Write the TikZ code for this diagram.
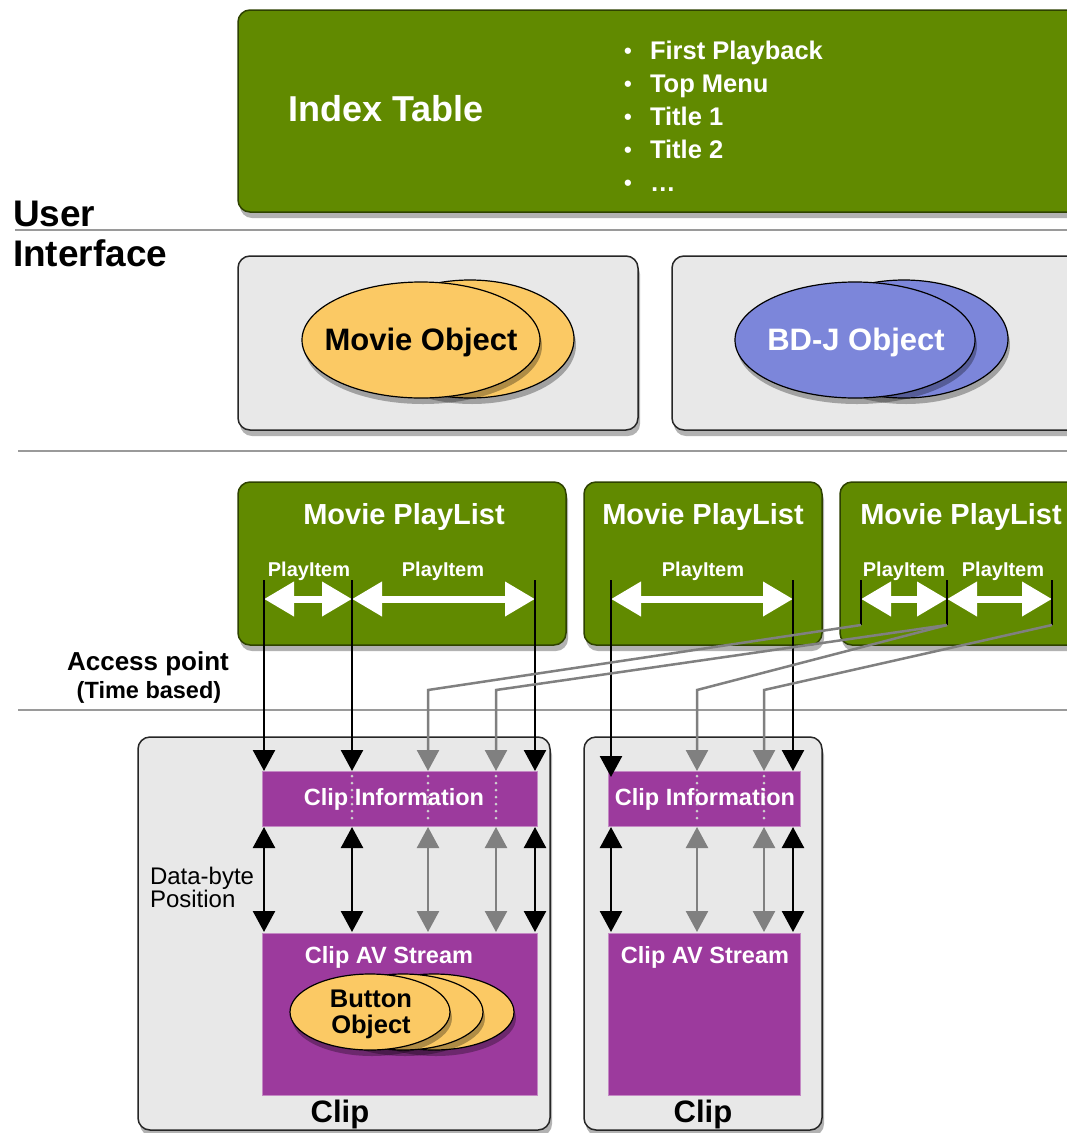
\documentclass[tikz,border=0pt]{standalone}
\usepackage{fontspec}
\setmainfont{Liberation Sans}
\usetikzlibrary{shapes.geometric,arrows.meta,shadows}
\definecolor{grn}{HTML}{618A00}
\definecolor{grnedge}{HTML}{2E4200}
\definecolor{panel}{HTML}{E8E8E8}
\definecolor{purp}{HTML}{9C3A9D}
\definecolor{yel}{HTML}{FBC964}
\definecolor{blu}{HTML}{7C86DA}
\definecolor{sepc}{HTML}{9A9A9A}
\definecolor{conn}{HTML}{808080}
\definecolor{dotc}{HTML}{CFCFCF}
\newcommand{\fsz}[2]{\fontsize{#1pt}{#2pt}\selectfont}
\begin{document}
\begin{tikzpicture}[x=1pt,y=-1pt,
  every node/.style={inner sep=0pt,outer sep=0pt},
  shad/.style={drop shadow={shadow xshift=2pt,shadow yshift=-6pt,opacity=0.3,fill=black}},
  greenbox/.style={draw=grnedge,line width=1.5pt,fill=grn,rounded corners=12pt,shad},
  panelbox/.style={draw=black!85,line width=1.5pt,fill=panel,rounded corners=12pt,shad},
  purpbox/.style={draw=purp!60!white,line width=0.8pt,fill=purp},
  sepline/.style={draw=sepc,line width=2.5pt},
  wtxt/.style={text=white,font=\bfseries},
  btxt/.style={text=black,font=\bfseries},
  yellip/.style={ellipse,draw=black,line width=1.2pt,fill=yel,shad},
  bellip/.style={ellipse,draw=black,line width=1.2pt,fill=blu,shad},
  blk/.style={draw=black,line width=2.5pt},
  gry/.style={draw=conn,line width=2.5pt},
  tip/.style={-{Triangle[width=22pt,length=21pt]}},
  dtip/.style={{Triangle[width=22pt,length=21pt]}-{Triangle[width=22pt,length=21pt]}},
  playarr/.style={draw=white,line width=7pt,{Triangle[width=33pt,length=30pt]}-{Triangle[width=33pt,length=30pt]}},
  dots/.style={draw=dotc,line width=3pt,line cap=round,dash pattern=on 0pt off 7pt}
]
\useasboundingbox (0,0) rectangle (1067,1133);
\clip (0,0) rectangle (1067,1133);
\fill[white] (0,0) rectangle (1067,1133);

% separators
\coordinate (s1a) at (15,230);  \coordinate (s1b) at (1067,230);
\coordinate (s2a) at (18,451);  \coordinate (s2b) at (1067,451);
\coordinate (s3a) at (18,710);  \coordinate (s3b) at (1067,710);
\draw[sepline] (s1a) -- (s1b);
\draw[sepline] (s2a) -- (s2b);
\draw[sepline] (s3a) -- (s3b);

% Index table
\node[greenbox,minimum width=862pt,minimum height=202pt] (idx) at (669,111) {};
\node[wtxt,font=\bfseries\fsz{36}{40}] (idxt) at (386,109) {Index Table};
\foreach \yy/\tt [count=\i] in {59/First Playback,92/Top Menu,125/Title 1,158/Title 2,191/…}{
  \node[wtxt,font=\bfseries\fsz{22}{24},anchor=base west] (bul\i) at (624,\yy-1) {•};
  \node[wtxt,font=\bfseries\fsz{25.5}{28},anchor=base west] (itm\i) at (650,\yy) {\tt};
}

% user interface label
\node[btxt,font=\bfseries\fsz{37}{40},anchor=west] (user) at (13,214) {User};
\node[btxt,font=\bfseries\fsz{37}{40},anchor=west] (iface) at (13,253) {Interface};

% object panels
\node[panelbox,minimum width=400pt,minimum height=174pt] (mop) at (438,343) {};
\node[panelbox,minimum width=428pt,minimum height=174pt] (bdp) at (886,343) {};
\node[yellip,minimum width=208pt,minimum height=118pt] (mob) at (470,339) {};
\node[yellip,minimum width=238pt,minimum height=116pt] (mof) at (421,340) {};
\node[btxt,font=\bfseries\fsz{31}{34}] (mot) at (421,342) {Movie Object};
\node[bellip,minimum width=208pt,minimum height=118pt] (bdb) at (904,339) {};
\node[bellip,minimum width=240pt,minimum height=116pt] (bdf) at (855,340) {};
\node[wtxt,font=\bfseries\fsz{31}{34}] (bdt) at (856,342) {BD-J Object};

% playlists
\node[greenbox,minimum width=328pt,minimum height=163pt] (pl1) at (402,563.5) {};
\node[greenbox,minimum width=238pt,minimum height=163pt] (pl2) at (703,563.5) {};
\node[greenbox,minimum width=260pt,minimum height=163pt] (pl3) at (970,563.5) {};
\node[wtxt,font=\bfseries\fsz{29}{32}] (pl1t) at (404,517) {Movie PlayList};
\node[wtxt,font=\bfseries\fsz{29}{32}] (pl2t) at (703,517) {Movie PlayList};
\node[wtxt,font=\bfseries\fsz{29}{32}] (pl3t) at (961,517) {Movie PlayList};
\foreach \xx [count=\i] in {309,443,703,904,1003}{
  \node[wtxt,font=\bfseries\fsz{20}{22}] (pi\i) at (\xx,571) {PlayItem};
}

% clip panels
\node[panelbox,minimum width=412pt,minimum height=393pt] (clip1) at (344,933.5) {};
\node[panelbox,minimum width=238pt,minimum height=393pt] (clip2) at (703,933.5) {};
\node[purpbox,minimum width=275pt,minimum height=55pt] (ci1) at (399.5,798.5) {};
\node[purpbox,minimum width=192pt,minimum height=55pt] (ci2) at (704,798.5) {};
\node[purpbox,minimum width=275pt,minimum height=162pt] (av1) at (399.5,1014) {};
\node[purpbox,minimum width=192pt,minimum height=162pt] (av2) at (704,1014) {};

% dotted lines in clip information
\foreach \xx in {352,428,496}{\draw[dots] (\xx,776) -- (\xx,824);}
\foreach \xx in {697,764}{\draw[dots] (\xx,776) -- (\xx,824);}
\node[wtxt,font=\bfseries\fsz{23.5}{26}] (ci1t) at (394,799) {Clip Information};
\node[wtxt,font=\bfseries\fsz{23.5}{26}] (ci2t) at (705,799) {Clip Information};
\node[wtxt,font=\bfseries\fsz{23.5}{26}] (av1t) at (389,957) {Clip AV Stream};
\node[wtxt,font=\bfseries\fsz{23.5}{26}] (av2t) at (705,957) {Clip AV Stream};

% button objects
\node[yellip,minimum width=160pt,minimum height=76pt] (bo3) at (434,1012) {};
\node[yellip,minimum width=160pt,minimum height=76pt] (bo2) at (403,1012) {};
\node[yellip,minimum width=160pt,minimum height=76pt] (bo1) at (370,1012) {};
\node[btxt,font=\bfseries\fsz{25.5}{26},align=center] (bot) at (371,1014) {Button\\Object};

\node[btxt,font=\bfseries\fsz{31}{34}] (cl1t) at (340,1114) {Clip};
\node[btxt,font=\bfseries\fsz{31}{34}] (cl2t) at (703,1114) {Clip};

% left labels
\node[btxt,font=\bfseries\fsz{26}{28}] (acc) at (148,664) {Access point};
\node[btxt,font=\bfseries\fsz{23.5}{26}] (tb) at (149,692) {(Time based)};
\node[font=\fsz{24}{23},align=left,anchor=west] (dbp) at (150,887) {Data-byte\\Position};

% playitem boundaries
\coordinate (a1) at (264,580); \coordinate (a2) at (352,580); \coordinate (a3) at (535,580);
\coordinate (b1) at (611,580); \coordinate (b2) at (793,580);
\coordinate (c1) at (861,580); \coordinate (c2) at (947,580); \coordinate (c3) at (1052,580);
\coordinate (c1e) at (861,625); \coordinate (c2e) at (947,625); \coordinate (c3e) at (1052,625);

% white playitem arrows
\draw[playarr] ([yshift=-19pt]a1) -- ([yshift=-19pt]a2);
\draw[playarr] ([yshift=-19pt]a2) -- ([yshift=-19pt]a3);
\draw[playarr] ([yshift=-19pt]b1) -- ([yshift=-19pt]b2);
\draw[playarr] ([yshift=-19pt]c1) -- ([yshift=-19pt]c2);
\draw[playarr] ([yshift=-19pt]c2) -- ([yshift=-19pt]c3);

% black access lines
\draw[blk,tip] (a1) -- (a1 |- ci1.north);
\draw[blk,tip] (a2) -- (a2 |- ci1.north);
\draw[blk,tip] (a3) -- (a3 |- ci1.north);
\draw[blk,tip] (b1) -- ([yshift=-6pt]b1 |- ci2.north);
\draw[blk,tip] (b2) -- (b2 |- ci2.north);
\draw[blk] (c1) -- (c1e);
\draw[blk] (c2) -- (c2e);
\draw[blk] (c3) -- (c3e);

% gray access lines
\coordinate (k1) at (428,690); \coordinate (k2) at (496,690);
\coordinate (k3) at (697,690); \coordinate (k4) at (764,690);
\draw[gry,tip] (c1e) -- (k1) -- (k1 |- ci1.north);
\draw[gry,tip] (c2e) -- (k2) -- (k2 |- ci1.north);
\draw[gry,tip] (c2e) -- (k3) -- (k3 |- ci2.north);
\draw[gry,tip] (c3e) -- (k4) -- (k4 |- ci2.north);

% data-byte position arrows
\foreach \xx in {264,352,535}{\draw[blk,dtip] (\xx,827) -- (\xx,932);}
\foreach \xx in {428,496}{\draw[gry,dtip] (\xx,827) -- (\xx,932);}
\foreach \xx in {611,793}{\draw[blk,dtip] (\xx,827) -- (\xx,932);}
\foreach \xx in {697,764}{\draw[gry,dtip] (\xx,827) -- (\xx,932);}
\end{tikzpicture}
\end{document}
